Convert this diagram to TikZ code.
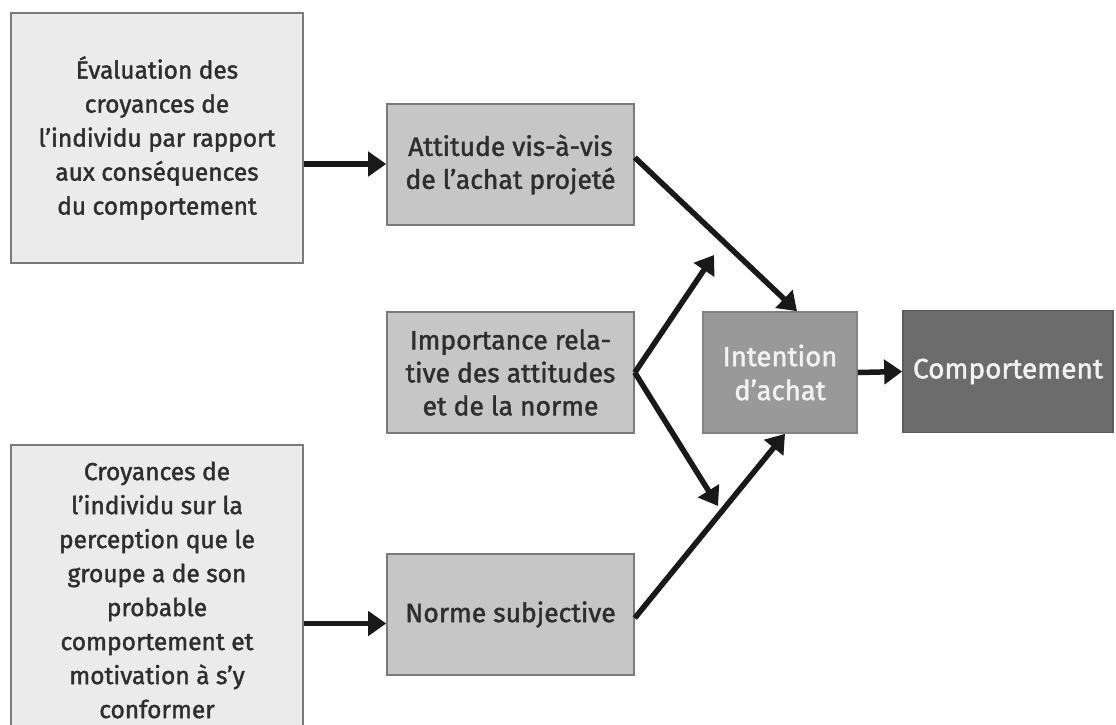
\documentclass[tikz,border=0pt]{standalone}
\usepackage{fontspec}
\setmainfont{Fira Sans}[FakeBold=1.6]
\usetikzlibrary{arrows.meta}
\definecolor{boxlight}{HTML}{EBEBEB}
\definecolor{boxmid}{HTML}{C6C6C6}
\definecolor{boxint}{HTML}{999999}
\definecolor{boxdark}{HTML}{6C6C6C}
\definecolor{edge}{HTML}{7A7A7A}
\definecolor{ink}{HTML}{2E2E2E}
\definecolor{inklight}{HTML}{F2F2F2}
\tikzset{
  base/.style={draw=edge, line width=1.6pt, inner sep=0pt, align=center,
    font=\fontsize{24.5}{34}\selectfont, text=ink},
  outer/.style={base, fill=boxlight, minimum width=292pt},
  inner/.style={base, fill=boxmid, minimum width=247pt, minimum height=121pt,
    font=\fontsize{26.5}{33}\selectfont},
  intent/.style={base, fill=boxint, text=inklight, draw=boxint!85!black,
    minimum width=154pt, minimum height=121pt, font=\fontsize{27.5}{34}\selectfont},
  result/.style={base, fill=boxdark, text=inklight, draw=boxdark!85!black,
    minimum width=210pt, minimum height=122pt, font=\fontsize{28}{34}\selectfont},
  link/.style={line width=5.5pt, draw=black!90,
    -{Triangle[length=18pt,width=24pt]}},
}
\begin{document}
\begin{tikzpicture}[x=1pt,y=-1pt]
\useasboundingbox (0,0) rectangle (1116,724);
\fill[white] (0,0) rectangle (1116,724);
\clip (0,0) rectangle (1116,724);

% left column: beliefs
\node[outer, minimum height=250pt] (b1) at (157,138)
  {Évaluation des\\croyances de\\l’individu par rapport\\aux conséquences\\du comportement};
\node[outer, minimum height=320pt] (b2) at (157,605) {};
\node[base, draw=none] (b2t) at (157,590)
  {Croyances de\\l’individu sur la\\perception que le\\groupe a de son\\probable\\comportement et\\motivation à s’y\\conformer};

% middle column
\node[inner] (att) at (510.5,164.5) {Attitude vis-à-vis\\de l’achat projeté};
\node[inner] (imp) at (510.5,372.5) {Importance rela-\\tive des attitudes\\et de la norme};
\node[inner] (norm) at (510.5,614.5) {Norme subjective};

% right: intention and behaviour
\node[intent] (int) at (780,372.5) {Intention\\d’achat};
\node[result] (comp) at (1008,371.5) {Comportement};

% connectors
\coordinate (attin) at ([yshift=0.5pt]att.west);
\draw[link] (b1.east |- attin) -- (attin);
\coordinate (normin) at ([yshift=-9pt]norm.west);
\draw[link] (b2.east |- normin) -- (normin);

\draw[link] ([yshift=7pt]att.east) -- ([xshift=17pt]int.north);
\draw[link] ([yshift=-3.5pt]norm.east) -- ([xshift=5pt]int.south);

\coordinate (up) at (714,255);
\coordinate (down) at (718,506);
\draw[link] (imp.east) -- (up);
\draw[link] (imp.east) -- (down);

\draw[link] (int.east) -- (comp.west);
\end{tikzpicture}
\end{document}
